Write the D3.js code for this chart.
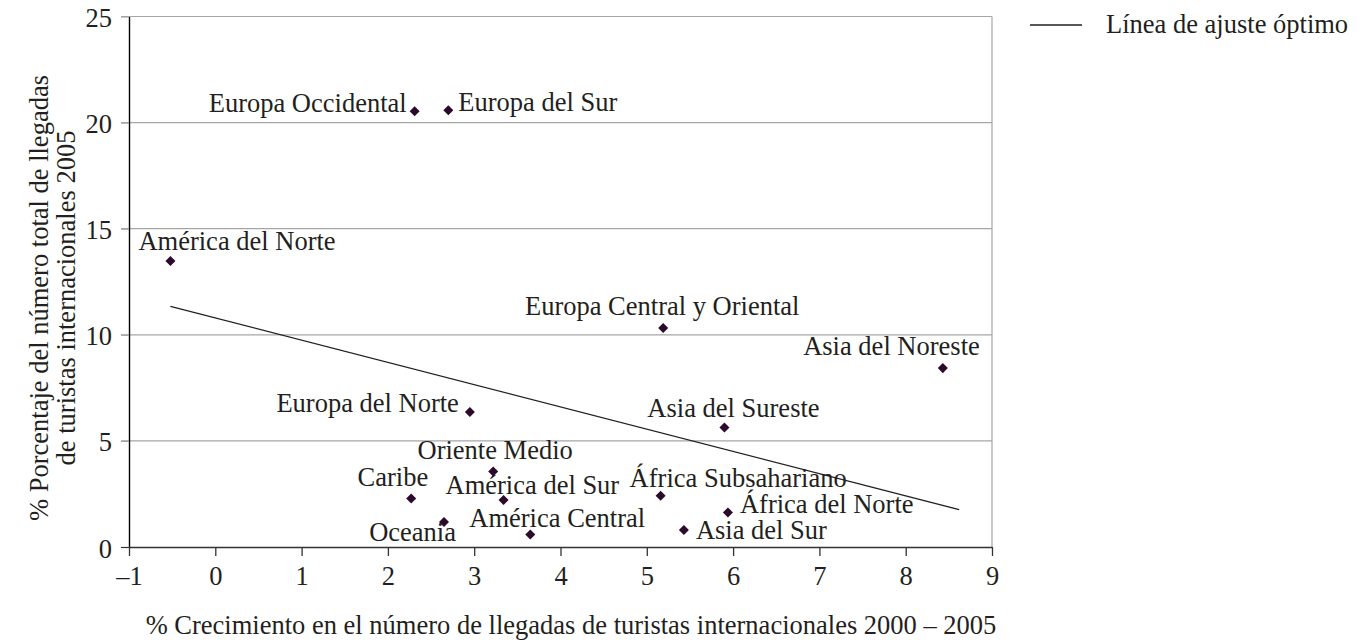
<!DOCTYPE html>
<html>
<head>
<meta charset="utf-8">
<script src="https://cdn.jsdelivr.net/npm/d3@7"></script>
<style>
  body { margin: 0; background: #fff; }
  svg { display: block; font-family: "Liberation Serif", "Times New Roman", serif; }
</style>
</head>
<body>
<script>
// regions, growth 2000-2005 (%) and share of arrivals 2005 (%)
const regions = ['América del Norte', 'Europa Occidental', 'Europa del Sur', 'Europa Central y Oriental',
  'Asia del Noreste', 'Asia del Sureste', 'Europa del Norte', 'Oriente Medio', 'Caribe',
  'América del Sur', 'África Subsahariano', 'África del Norte', 'Oceania', 'América Central', 'Asia del Sur']
const growth = [-0.52, 2.31, 2.70, 5.19, 8.43, 5.90, 2.95, 3.22, 2.27, 3.34, 5.16, 5.94, 2.65, 3.65, 5.43]
const share = [13.48, 20.53, 20.58, 10.32, 8.43, 5.63, 6.36, 3.56, 2.29, 2.21, 2.42, 1.63, 1.18, 0.59, 0.80]

// best fit line end points
const fitX = [-0.52, 8.62]
const fitY = [11.34, 1.76]

const xTicks = [-1, 0, 1, 2, 3, 4, 5, 6, 7, 8, 9]
const yTicks = [0, 5, 10, 15, 20, 25]

// where each label sits around its marker
const labelPos = [
  {anchor: 'start', dx: -32, dy: -11},
  {anchor: 'end', dx: -8, dy: 1},
  {anchor: 'start', dx: 10, dy: 1},
  {anchor: 'middle', dx: -1, dy: -13},
  {anchor: 'end', dx: 37, dy: -13},
  {anchor: 'middle', dx: 9, dy: -11},
  {anchor: 'end', dx: -11, dy: 0},
  {anchor: 'middle', dx: 2, dy: -12},
  {anchor: 'end', dx: 17, dy: -12},
  {anchor: 'start', dx: -58, dy: -6},
  {anchor: 'start', dx: -31, dy: -9},
  {anchor: 'start', dx: 12, dy: 1},
  {anchor: 'end', dx: 12, dy: 19},
  {anchor: 'start', dx: -61, dy: -7},
  {anchor: 'start', dx: 12, dy: 9}
]

const width = 1365
const height = 643
const plotLeft = 129
const plotRight = 992
const plotTop = 16.5
const plotBottom = 547
const fontSize = 26.5

const svg = d3.select('body').append('svg').attr('width', width).attr('height', height)

const x = d3.scaleLinear().domain([-1, 9]).range([plotLeft, plotRight])
const y = d3.scaleLinear().domain([0, 25]).range([plotBottom, plotTop])

// gridlines
svg.append('g')
  .selectAll('line')
  .data(yTicks.filter(d => d > 0))
  .enter()
  .append('line')
  .attr('x1', plotLeft - 8)
  .attr('x2', plotRight)
  .attr('y1', d => y(d))
  .attr('y2', d => y(d))
  .attr('stroke', '#a6a6a6')
  .attr('stroke-width', 1.2)

// right border
svg.append('line')
  .attr('x1', plotRight).attr('x2', plotRight)
  .attr('y1', y(25)).attr('y2', y(0))
  .attr('stroke', '#a6a6a6')
  .attr('stroke-width', 1.2)

const yAxis = d3.axisLeft(y).tickValues(yTicks).tickSize(8).tickSizeOuter(0).tickPadding(9)
const gy = svg.append('g').attr('transform', `translate(${plotLeft},0)`).call(yAxis)
gy.select('.domain').attr('stroke', '#000').attr('stroke-width', 1.4)
gy.selectAll('.tick line').attr('stroke', d => d === 0 ? '#333' : '#a6a6a6').attr('stroke-width', 1.2)
gy.selectAll('.tick text')
  .attr('font-family', 'Liberation Serif').attr('font-size', fontSize).attr('fill', '#231f20')
  .attr('dy', '0.38em')

const xAxis = d3.axisBottom(x).tickValues(xTicks).tickSize(9).tickSizeOuter(0).tickPadding(10)
  .tickFormat(d => String(d).replace('-', '–'))
const gx = svg.append('g').attr('transform', `translate(0,${plotBottom})`).call(xAxis)
gx.select('.domain').attr('stroke', '#333').attr('stroke-width', 1.4)
gx.selectAll('.tick line').attr('stroke', '#333').attr('stroke-width', 1.3)
gx.selectAll('.tick text')
  .attr('font-family', 'Liberation Serif').attr('font-size', fontSize).attr('fill', '#231f20')

// best fit line
svg.append('line')
  .attr('x1', x(fitX[0])).attr('y1', y(fitY[0]))
  .attr('x2', x(fitX[1])).attr('y2', y(fitY[1]))
  .attr('stroke', '#231f20')
  .attr('stroke-width', 1.3)

// markers
const diamond = d3.symbol().type(d3.symbolDiamond2).size(64)
svg.append('g')
  .selectAll('path')
  .data(regions)
  .enter()
  .append('path')
  .attr('d', diamond)
  .attr('transform', (d, i) => `translate(${x(growth[i])},${y(share[i])})`)
  .attr('fill', '#2b0a2b')

// point labels
svg.append('g')
  .selectAll('text')
  .data(regions)
  .enter()
  .append('text')
  .attr('x', (d, i) => x(growth[i]) + labelPos[i].dx)
  .attr('y', (d, i) => y(share[i]) + labelPos[i].dy)
  .attr('text-anchor', (d, i) => labelPos[i].anchor)
  .attr('font-size', fontSize)
  .attr('fill', '#231f20')
  .text(d => d)

// axis titles
svg.append('text')
  .attr('x', 571)
  .attr('y', 634)
  .attr('text-anchor', 'middle')
  .attr('font-size', fontSize)
  .attr('fill', '#231f20')
  .text('% Crecimiento en el número de llegadas de turistas internacionales 2000 – 2005')

const yTitle = svg.append('text')
  .attr('transform', 'translate(48,298) rotate(-90)')
  .attr('text-anchor', 'middle')
  .attr('font-size', fontSize)
  .attr('fill', '#231f20')
yTitle.append('tspan').attr('x', 0).attr('y', 0).text('% Porcentaje del número total de llegadas')
yTitle.append('tspan').attr('x', 0).attr('y', 27).text('de turistas internacionales 2005')

// legend
svg.append('line')
  .attr('x1', 1030).attr('x2', 1082)
  .attr('y1', 25).attr('y2', 25)
  .attr('stroke', '#231f20')
  .attr('stroke-width', 1.3)
svg.append('text')
  .attr('x', 1106)
  .attr('y', 33)
  .attr('font-size', fontSize)
  .attr('fill', '#231f20')
  .text('Línea de ajuste óptimo')
</script>
</body>
</html>
